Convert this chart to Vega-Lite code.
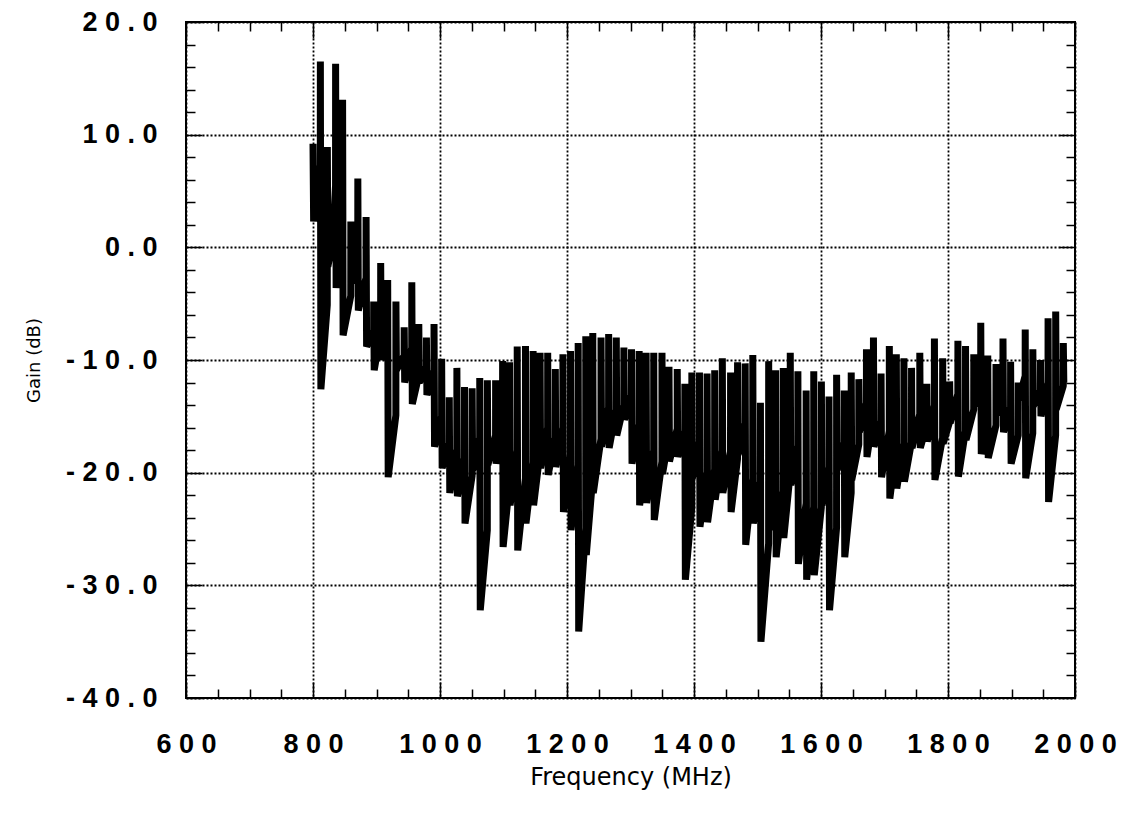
{
  "$schema": "https://vega.github.io/schema/vega-lite/v6.json",
  "width": 889,
  "height": 676,
  "autosize": {"type": "none"},
  "padding": {"left": 186, "top": 22, "right": 55, "bottom": 123},
  "background": "white",
  "config": {
    "view": {"stroke": "black", "strokeWidth": 2},
    "axis": {"tickColor": "black", "tickWidth": 1.5, "domain": false, "labelOverlap": false, "labelFlush": false, "labelBound": false}
  },
  "data": {"values": [
    {"f":800,"g":9.2},{"f":801,"g":2.3},
    {"f":811.5,"g":7.3},{"f":811.6,"g":16.5},{"f":812.4,"g":-12.6},
    {"f":822.5,"g":-5.1},{"f":822.6,"g":8.9},{"f":823.4,"g":-1.7},
    {"f":829.5,"g":0.1},{"f":829.6,"g":3.5},{"f":830.4,"g":-0.3},
    {"f":835.5,"g":5.5},{"f":835.6,"g":16.3},{"f":836.4,"g":-3.6},
    {"f":846.5,"g":2.2},{"f":846.6,"g":13.1},{"f":847.4,"g":-7.8},
    {"f":859.5,"g":-4.3},{"f":859.6,"g":2.3},{"f":860.4,"g":-3.2},
    {"f":870.5,"g":0.1},{"f":870.6,"g":6.1},{"f":871.4,"g":-5.6},
    {"f":883.5,"g":-2.7},{"f":883.6,"g":2.7},{"f":884.4,"g":-8.8},
    {"f":895.5,"g":-7.4},{"f":895.6,"g":-4.8},{"f":896.4,"g":-10.9},
    {"f":906.5,"g":-7.6},{"f":906.6,"g":-1.4},{"f":907.4,"g":-10.0},
    {"f":917.5,"g":-7.5},{"f":917.6,"g":-2.9},{"f":918.4,"g":-20.4},
    {"f":930.5,"g":-14.9},{"f":930.6,"g":-4.8},{"f":931.4,"g":-10.9},
    {"f":943.5,"g":-9.6},{"f":943.6,"g":-7.1},{"f":944.4,"g":-12.0},
    {"f":955.5,"g":-8.9},{"f":955.6,"g":-3.1},{"f":956.4,"g":-13.9},
    {"f":966.5,"g":-11.4},{"f":966.6,"g":-6.8},{"f":967.4,"g":-12.0},
    {"f":978.5,"g":-10.6},{"f":978.6,"g":-8.0},{"f":979.4,"g":-13.1},
    {"f":990.5,"g":-10.9},{"f":990.6,"g":-6.8},{"f":991.4,"g":-17.7},
    {"f":1002.5,"g":-15.0},{"f":1002.6,"g":-9.9},{"f":1003.4,"g":-19.6},
    {"f":1014.5,"g":-17.4},{"f":1014.6,"g":-13.3},{"f":1015.4,"g":-21.8},
    {"f":1026.5,"g":-17.9},{"f":1026.6,"g":-10.7},{"f":1027.4,"g":-22.1},
    {"f":1038.5,"g":-18.7},{"f":1038.6,"g":-12.4},{"f":1039.4,"g":-24.5},
    {"f":1050.5,"g":-20.3},{"f":1050.6,"g":-12.5},{"f":1051.4,"g":-19.8},
    {"f":1062.5,"g":-16.9},{"f":1062.6,"g":-11.6},{"f":1063.4,"g":-32.2},
    {"f":1074.5,"g":-25.1},{"f":1074.6,"g":-11.8},{"f":1075.4,"g":-19.3},
    {"f":1087.5,"g":-16.7},{"f":1087.6,"g":-11.8},{"f":1088.4,"g":-19.2},
    {"f":1098.5,"g":-16.0},{"f":1098.6,"g":-10.1},{"f":1099.4,"g":-26.6},
    {"f":1109.5,"g":-20.9},{"f":1109.6,"g":-10.2},{"f":1110.4,"g":-22.9},
    {"f":1121.5,"g":-18.0},{"f":1121.6,"g":-8.8},{"f":1122.4,"g":-26.9},
    {"f":1134.5,"g":-20.5},{"f":1134.6,"g":-8.75},{"f":1135.4,"g":-24.5},
    {"f":1146.5,"g":-19.1},{"f":1146.6,"g":-9.2},{"f":1147.4,"g":-22.9},
    {"f":1157.5,"g":-18.2},{"f":1157.6,"g":-9.35},{"f":1158.4,"g":-19.6},
    {"f":1169.5,"g":-16.0},{"f":1169.6,"g":-9.35},{"f":1170.4,"g":-20.2},
    {"f":1181.5,"g":-16.9},{"f":1181.6,"g":-10.8},{"f":1182.4,"g":-19.5},
    {"f":1193.5,"g":-16.0},{"f":1193.6,"g":-9.5},{"f":1194.4,"g":-23.5},
    {"f":1205.5,"g":-18.5},{"f":1205.6,"g":-9.2},{"f":1206.4,"g":-25.1},
    {"f":1217.5,"g":-19.3},{"f":1217.6,"g":-8.5},{"f":1218.4,"g":-34.1},
    {"f":1229.5,"g":-24.9},{"f":1229.6,"g":-7.9},{"f":1230.4,"g":-27.3},
    {"f":1240.5,"g":-20.4},{"f":1240.6,"g":-7.6},{"f":1241.4,"g":-21.8},
    {"f":1253.5,"g":-17.0},{"f":1253.6,"g":-8.0},{"f":1254.4,"g":-17.7},
    {"f":1265.5,"g":-14.2},{"f":1265.6,"g":-7.7},{"f":1266.4,"g":-17.8},
    {"f":1277.5,"g":-14.4},{"f":1277.6,"g":-8.0},{"f":1278.4,"g":-16.7},
    {"f":1289.5,"g":-14.0},{"f":1289.6,"g":-8.9},{"f":1290.4,"g":-15.3},
    {"f":1301.5,"g":-13.1},{"f":1301.6,"g":-9.05},{"f":1302.4,"g":-19.2},
    {"f":1313.5,"g":-15.7},{"f":1313.6,"g":-9.2},{"f":1314.4,"g":-22.9},
    {"f":1324.5,"g":-18.2},{"f":1324.6,"g":-9.35},{"f":1325.4,"g":-22.7},
    {"f":1336.5,"g":-18.0},{"f":1336.6,"g":-9.35},{"f":1337.4,"g":-24.2},
    {"f":1349.5,"g":-19.0},{"f":1349.6,"g":-9.35},{"f":1350.4,"g":-20.1},
    {"f":1360.5,"g":-16.8},{"f":1360.6,"g":-10.6},{"f":1361.4,"g":-19.0},
    {"f":1373.5,"g":-16.1},{"f":1373.6,"g":-10.8},{"f":1374.4,"g":-18.6},
    {"f":1385.5,"g":-16.3},{"f":1385.6,"g":-12.1},{"f":1386.4,"g":-29.5},
    {"f":1396.5,"g":-23.1},{"f":1396.6,"g":-11.1},{"f":1397.4,"g":-20.5},
    {"f":1408.5,"g":-17.2},{"f":1408.6,"g":-11.1},{"f":1409.4,"g":-24.8},
    {"f":1420.5,"g":-20.0},{"f":1420.6,"g":-11.2},{"f":1421.4,"g":-24.4},
    {"f":1432.5,"g":-19.7},{"f":1432.6,"g":-10.9},{"f":1433.4,"g":-22.4},
    {"f":1444.5,"g":-18.0},{"f":1444.6,"g":-9.85},{"f":1445.4,"g":-21.8},
    {"f":1457.5,"g":-18.1},{"f":1457.6,"g":-11.1},{"f":1458.4,"g":-23.5},
    {"f":1468.5,"g":-18.8},{"f":1468.6,"g":-10.2},{"f":1469.4,"g":-18.4},
    {"f":1480.5,"g":-15.6},{"f":1480.6,"g":-10.3},{"f":1481.4,"g":-26.4},
    {"f":1492.5,"g":-20.5},{"f":1492.6,"g":-9.55},{"f":1493.4,"g":-24.5},
    {"f":1504.5,"g":-20.8},{"f":1504.6,"g":-13.8},{"f":1505.4,"g":-35.0},
    {"f":1517.5,"g":-26.3},{"f":1517.6,"g":-10.1},{"f":1518.4,"g":-25.1},
    {"f":1528.5,"g":-20.1},{"f":1528.6,"g":-10.9},{"f":1529.4,"g":-27.5},
    {"f":1540.5,"g":-21.6},{"f":1540.6,"g":-10.7},{"f":1541.4,"g":-25.8},
    {"f":1551.5,"g":-20.0},{"f":1551.6,"g":-9.35},{"f":1552.4,"g":-21.1},
    {"f":1563.5,"g":-17.6},{"f":1563.6,"g":-11.0},{"f":1564.4,"g":-28.1},
    {"f":1576.5,"g":-22.7},{"f":1576.6,"g":-12.7},{"f":1577.4,"g":-29.5},
    {"f":1588.5,"g":-23.0},{"f":1588.6,"g":-11.0},{"f":1589.4,"g":-29.1},
    {"f":1600.5,"g":-23.1},{"f":1600.6,"g":-11.9},{"f":1601.4,"g":-22.9},
    {"f":1612.5,"g":-19.5},{"f":1612.6,"g":-13.25},{"f":1613.4,"g":-32.2},
    {"f":1624.5,"g":-24.9},{"f":1624.6,"g":-11.3},{"f":1625.4,"g":-19.8},
    {"f":1636.5,"g":-17.3},{"f":1636.6,"g":-12.7},{"f":1637.4,"g":-27.5},
    {"f":1647.5,"g":-21.8},{"f":1647.6,"g":-11.1},{"f":1648.4,"g":-20.65},
    {"f":1659.5,"g":-17.5},{"f":1659.6,"g":-11.7},{"f":1660.4,"g":-16.4},
    {"f":1671.5,"g":-13.8},{"f":1671.6,"g":-9.05},{"f":1672.4,"g":-18.6},
    {"f":1682.5,"g":-14.9},{"f":1682.6,"g":-8.0},{"f":1683.4,"g":-17.7},
    {"f":1694.5,"g":-15.4},{"f":1694.6,"g":-11.2},{"f":1695.4,"g":-20.4},
    {"f":1707.5,"g":-16.3},{"f":1707.6,"g":-8.75},{"f":1708.4,"g":-22.3},
    {"f":1718.5,"g":-17.8},{"f":1718.6,"g":-9.5},{"f":1719.4,"g":-21.4},
    {"f":1730.5,"g":-17.4},{"f":1730.6,"g":-9.85},{"f":1731.4,"g":-20.8},
    {"f":1742.5,"g":-17.3},{"f":1742.6,"g":-10.7},{"f":1743.4,"g":-17.8},
    {"f":1755.5,"g":-14.8},{"f":1755.6,"g":-9.35},{"f":1756.4,"g":-17.8},
    {"f":1766.5,"g":-15.8},{"f":1766.6,"g":-12.1},{"f":1767.4,"g":-17.25},
    {"f":1778.5,"g":-14.0},{"f":1778.6,"g":-8.1},{"f":1779.4,"g":-20.65},
    {"f":1791.5,"g":-16.9},{"f":1791.6,"g":-9.85},{"f":1792.4,"g":-17.4},
    {"f":1802.5,"g":-15.5},{"f":1802.6,"g":-11.9},{"f":1803.4,"g":-15.6},
    {"f":1815.5,"g":-13.0},{"f":1815.6,"g":-8.3},{"f":1816.4,"g":-20.35},
    {"f":1827.5,"g":-16.3},{"f":1827.6,"g":-8.75},{"f":1828.4,"g":-17.1},
    {"f":1840.5,"g":-14.4},{"f":1840.6,"g":-9.5},{"f":1841.4,"g":-14.1},
    {"f":1851.5,"g":-11.5},{"f":1851.6,"g":-6.7},{"f":1852.4,"g":-18.35},
    {"f":1862.5,"g":-15.3},{"f":1862.6,"g":-9.6},{"f":1863.4,"g":-18.7},
    {"f":1875.5,"g":-15.8},{"f":1875.6,"g":-10.35},{"f":1876.4,"g":-14.9},
    {"f":1886.5,"g":-12.5},{"f":1886.6,"g":-8.1},{"f":1887.4,"g":-16.4},
    {"f":1898.5,"g":-14.2},{"f":1898.6,"g":-10.15},{"f":1899.4,"g":-19.2},
    {"f":1910.5,"g":-16.7},{"f":1910.6,"g":-12.0},{"f":1911.4,"g":-13.55},
    {"f":1921.5,"g":-11.4},{"f":1921.6,"g":-7.3},{"f":1922.4,"g":-20.5},
    {"f":1933.5,"g":-16.5},{"f":1933.6,"g":-9.05},{"f":1934.4,"g":-14.1},
    {"f":1945.5,"g":-12.7},{"f":1945.6,"g":-10.0},{"f":1946.4,"g":-15.0},
    {"f":1957.5,"g":-12.0},{"f":1957.6,"g":-6.3},{"f":1958.4,"g":-22.6},
    {"f":1969.5,"g":-16.7},{"f":1969.6,"g":-5.7},{"f":1970.4,"g":-14.4},
    {"f":1981.5,"g":-12.3},{"f":1981.6,"g":-8.5},{"f":1982.4,"g":-12.0}
  ]},
  "layer": [
    {
      "mark": {"type": "line", "color": "black", "strokeWidth": 7, "strokeJoin": "bevel", "clip": true},
      "encoding": {
        "x": {"field": "f", "type": "quantitative", "scale": {"domain": [600, 2000], "nice": false, "zero": false},
          "axis": {"orient": "bottom", "values": [600,800,1000,1200,1400,1600,1800,2000], "ticks": false,
            "labelExpr": "join(split(format(datum.value,'d'),''),' ')",
            "labelFont": "Liberation Sans", "labelFontWeight": "bold", "labelFontSize": 27, "labelColor": "black", "labelPadding": 33,
            "grid": true, "gridColor": "black", "gridDash": [2, 2], "gridWidth": 1.8, "gridOpacity": 1,
            "title": "Frequency (MHz)", "titleFont": "DejaVu Sans", "titleFontSize": 24, "titleFontWeight": "normal", "titleColor": "black", "titlePadding": 8}},
        "y": {"field": "g", "type": "quantitative", "scale": {"domain": [-40, 20], "nice": false, "zero": false},
          "axis": {"orient": "left", "values": [-40,-30,-20,-10,0,10,20], "ticks": false,
            "labelExpr": "(datum.value < 0 ? '- ' : '') + join(split(format(abs(datum.value),'.1f'),''),' ')",
            "labelFont": "Liberation Sans", "labelFontWeight": "bold", "labelFontSize": 27, "labelColor": "black", "labelPadding": 29,
            "grid": true, "gridColor": "black", "gridDash": [2, 2], "gridWidth": 1.8, "gridOpacity": 1,
            "title": "Gain (dB)", "titleFont": "DejaVu Sans", "titleFontSize": 18, "titleFontWeight": "normal", "titleColor": "black", "titlePadding": 22}}
      }
    },
    {
      "mark": {"type": "line", "opacity": 0},
      "encoding": {
        "x": {"field": "f", "type": "quantitative", "scale": {"domain": [600, 2000], "nice": false, "zero": false},
          "axis": {"orient": "bottom", "values": [600,800,1000,1200,1400,1600,1800,2000], "labels": false, "grid": false, "title": null, "tickSize": 16, "offset": -16}},
        "y": {"field": "g", "type": "quantitative", "scale": {"domain": [-40, 20], "nice": false, "zero": false},
          "axis": {"orient": "left", "values": [-40,-30,-20,-10,0,10,20], "labels": false, "grid": false, "title": null, "tickSize": 16, "offset": -16}}
      }
    },
    {
      "mark": {"type": "line", "opacity": 0},
      "encoding": {
        "x": {"field": "f", "type": "quantitative", "scale": {"domain": [600, 2000], "nice": false, "zero": false},
          "axis": {"orient": "bottom", "values": [650,700,750,850,900,950,1050,1100,1150,1250,1300,1350,1450,1500,1550,1650,1700,1750,1850,1900,1950], "labels": false, "grid": false, "title": null, "tickSize": 9, "offset": -9}},
        "y": {"field": "g", "type": "quantitative", "scale": {"domain": [-40, 20], "nice": false, "zero": false},
          "axis": {"orient": "left", "values": [-38,-36,-34,-32,-28,-26,-24,-22,-18,-16,-14,-12,-8,-6,-4,-2,2,4,6,8,12,14,16,18], "labels": false, "grid": false, "title": null, "tickSize": 9, "offset": -9}}
      }
    },
    {
      "mark": {"type": "line", "opacity": 0},
      "encoding": {
        "x": {"field": "f", "type": "quantitative", "scale": {"domain": [600, 2000], "nice": false, "zero": false},
          "axis": {"orient": "top", "values": [600,800,1000,1200,1400,1600,1800,2000], "labels": false, "grid": false, "title": null, "tickSize": 16, "offset": -16}},
        "y": {"field": "g", "type": "quantitative", "scale": {"domain": [-40, 20], "nice": false, "zero": false},
          "axis": {"orient": "right", "values": [-40,-30,-20,-10,0,10,20], "labels": false, "grid": false, "title": null, "tickSize": 16, "offset": -16}}
      }
    },
    {
      "mark": {"type": "line", "opacity": 0},
      "encoding": {
        "x": {"field": "f", "type": "quantitative", "scale": {"domain": [600, 2000], "nice": false, "zero": false},
          "axis": {"orient": "top", "values": [650,700,750,850,900,950,1050,1100,1150,1250,1300,1350,1450,1500,1550,1650,1700,1750,1850,1900,1950], "labels": false, "grid": false, "title": null, "tickSize": 9, "offset": -9}},
        "y": {"field": "g", "type": "quantitative", "scale": {"domain": [-40, 20], "nice": false, "zero": false},
          "axis": {"orient": "right", "values": [-38,-36,-34,-32,-28,-26,-24,-22,-18,-16,-14,-12,-8,-6,-4,-2,2,4,6,8,12,14,16,18], "labels": false, "grid": false, "title": null, "tickSize": 9, "offset": -9}}
      }
    }
  ],
  "resolve": {"axis": {"x": "independent", "y": "independent"}}
}
